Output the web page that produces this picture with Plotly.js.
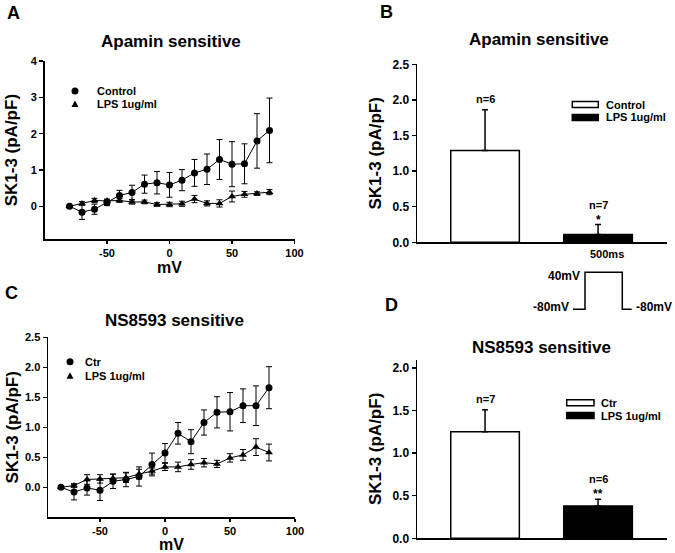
<!DOCTYPE html>
<html>
<head>
<meta charset="utf-8">
<script src="https://cdn.plot.ly/plotly-3.0.1.min.js"></script>
<style>html,body{margin:0;padding:0;background:#fff;}#chart{width:675px;height:553px;}</style>
</head>
<body>
<div id="chart"></div>
<script>
// ---------- data ----------
const mV = [-80, -70, -60, -50, -40, -30, -20, -10, 0, 10, 20, 30, 40, 50, 60, 70, 80];
const mVTicks = [-50, 0, 50, 100];
const mVTickText = ['-50', '0', '50', '100'];

// Panel A: Apamin sensitive I-V
const apaCtrl    = [0, -0.16, -0.08, 0.10, 0.30, 0.38, 0.61, 0.65, 0.59, 0.72, 0.92, 1.02, 1.29, 1.16, 1.17, 1.80, 2.09];
const apaCtrlErr = [0, 0.20, 0.14, 0.08, 0.14, 0.20, 0.25, 0.31, 0.34, 0.29, 0.37, 0.42, 0.55, 0.62, 0.55, 0.75, 0.89];
const apaLps     = [0, 0.08, 0.16, 0.15, 0.16, 0.12, 0.12, 0.05, 0.05, 0.07, 0.20, 0.08, 0.08, 0.27, 0.33, 0.35, 0.39];
const apaLpsErr  = [0, 0.05, 0.06, 0.05, 0.05, 0.06, 0.05, 0.05, 0.06, 0.07, 0.10, 0.07, 0.10, 0.15, 0.08, 0.05, 0.07];

// Panel C: NS8593 sensitive I-V
const nsCtr     = [0, -0.08, -0.01, -0.05, 0.10, 0.13, 0.18, 0.38, 0.57, 0.90, 0.76, 1.08, 1.25, 1.26, 1.36, 1.36, 1.66];
const nsCtrErr  = [0, 0.13, 0.12, 0.17, 0.12, 0.12, 0.16, 0.19, 0.16, 0.18, 0.20, 0.21, 0.26, 0.32, 0.28, 0.33, 0.35];
const nsLps     = [0, 0.03, 0.13, 0.14, 0.15, 0.16, 0.22, 0.27, 0.34, 0.34, 0.38, 0.41, 0.39, 0.49, 0.54, 0.67, 0.58];
const nsLpsErr  = [0, 0.03, 0.08, 0.07, 0.07, 0.08, 0.08, 0.05, 0.06, 0.08, 0.08, 0.07, 0.06, 0.07, 0.09, 0.14, 0.14];

// Panel B: Apamin sensitive bars
const apaGroups = ['Control', 'LPS 1ug/ml'];
const apaBar    = [1.29, 0.11];
const apaBarErr = [0.57, 0.14];
const apaN      = ['n=6', 'n=7'];
const apaSig    = ['', '*'];

// Panel D: NS8593 sensitive bars
const nsGroups = ['Ctr', 'LPS 1ug/ml'];
const nsBar    = [1.25, 0.38];
const nsBarErr = [0.26, 0.08];
const nsN      = ['n=7', 'n=6'];
const nsSig    = ['', '**'];

const barFill = ['white', 'black'];

// ---------- helpers ----------
const W = 675, H = 553;
const PX = p => p / W;
const PY = p => 1 - p / H;
const FAM = 'Liberation Sans, Arial, sans-serif';
const bold = (size) => ({family: FAM, size: size, color: 'black', weight: 'bold'});

function ivTrace(y, err, sym, xa, ya) {
  return {
    x: mV, y: y, type: 'scatter', mode: 'lines+markers',
    xaxis: xa, yaxis: ya, showlegend: false,
    line: {color: 'black', width: 1},
    marker: {symbol: sym, size: 7, color: 'black'},
    error_y: {type: 'data', array: err, visible: true, color: 'black', thickness: 1, width: 3}
  };
}
function barTrace(cats, vals, errs, xa, ya) {
  return {
    x: cats, y: vals, type: 'bar', xaxis: xa, yaxis: ya, showlegend: false,
    width: 0.607,
    marker: {color: barFill, line: {color: 'black', width: 1.5}},
    error_y: {type: 'data', symmetric: false, array: errs, arrayminus: errs.map(() => 0),
              visible: true, color: 'black', thickness: 1.5, width: 3}
  };
}

const traces = [
  ivTrace(apaCtrl, apaCtrlErr, 'circle', 'x', 'y'),
  ivTrace(apaLps, apaLpsErr, 'triangle-up', 'x', 'y'),
  barTrace(apaGroups, apaBar, apaBarErr, 'x2', 'y2'),
  ivTrace(nsCtr, nsCtrErr, 'circle', 'x3', 'y3'),
  ivTrace(nsLps, nsLpsErr, 'triangle-up', 'x3', 'y3'),
  barTrace(nsGroups, nsBar, nsBarErr, 'x4', 'y4')
];

const axBase = {
  showline: true, linecolor: 'black', linewidth: 1.5, mirror: false,
  ticks: 'outside', ticklen: 4, tickwidth: 1.5, tickcolor: 'black',
  showgrid: false, zeroline: false, fixedrange: true,
  tickfont: bold(11)
};
function ax(extra) { return Object.assign({}, axBase, extra); }

const layout = {
  width: W, height: H,
  margin: {l: 0, r: 0, t: 0, b: 0},
  paper_bgcolor: 'white', plot_bgcolor: 'white',
  showlegend: false,
  // Panel A
  xaxis: ax({domain: [PX(44.5), PX(294.5)], range: [-100, 100], tickvals: mVTicks, ticktext: mVTickText, anchor: 'y',
             ticklen: 3, title: {text: 'mV', font: bold(16), standoff: 3}}),
  yaxis: ax({domain: [PY(239.3), PY(61)], range: [-0.908, 4], tickvals: [0, 1, 2, 3, 4], anchor: 'x',
             title: {text: 'SK1-3 (pA/pF)', font: bold(17), standoff: 8}}),
  // Panel B
  xaxis2: ax({domain: [PX(417), PX(667)], range: [-0.602, 1.61], type: 'category', anchor: 'y2',
              ticks: '', showticklabels: false}),
  yaxis2: ax({domain: [PY(242.3), PY(64.3)], range: [0, 2.5], tickvals: [0, 0.5, 1, 1.5, 2, 2.5], tickformat: '.1f',
              anchor: 'x2', tickfont: bold(12),
              title: {text: 'SK1-3 (pA/pF)', font: bold(17), standoff: 6}}),
  // Panel C
  xaxis3: ax({domain: [PX(48), PX(295)], range: [-90, 100], tickvals: mVTicks, ticktext: mVTickText, anchor: 'y3',
              ticklen: 3, title: {text: 'mV', font: bold(16), standoff: 3}}),
  yaxis3: ax({domain: [PY(517.3), PY(337.3)], range: [-0.5, 2.5], tickvals: [0, 0.5, 1, 1.5, 2, 2.5], tickformat: '.1f',
              anchor: 'x3', title: {text: 'SK1-3 (pA/pF)', font: bold(17), standoff: 2}}),
  // Panel D
  xaxis4: ax({domain: [PX(417), PX(667)], range: [-0.602, 1.61], type: 'category', anchor: 'y4',
              ticks: '', showticklabels: false}),
  yaxis4: ax({domain: [PY(538.3), PY(359.5)], range: [0, 2.1], tickvals: [0, 0.5, 1, 1.5, 2], tickformat: '.1f',
              anchor: 'x4', tickfont: bold(12),
              title: {text: 'SK1-3 (pA/pF)', font: bold(17), standoff: 6}}),
  annotations: [],
  shapes: []
};

const A = layout.annotations, S = layout.shapes;
function txt(text, px, py, size, xanchor, yanchor) {
  A.push({text: text, x: PX(px), y: PY(py), xref: 'paper', yref: 'paper', showarrow: false,
          xanchor: xanchor || 'center', yanchor: yanchor || 'middle', font: bold(size)});
}

// panel letters and titles
txt('A', 13, 13, 18); txt('B', 386, 12.5, 18); txt('C', 11.5, 292.5, 18); txt('D', 391.5, 305, 18);
txt('Apamin sensitive', 170.5, 41, 17);
txt('Apamin sensitive', 539, 40, 17);
txt('NS8593 sensitive', 174, 320, 17);
txt('NS8593 sensitive', 541, 347, 17);

// n labels and significance stars (positioned from data)
function barLabels(cats, vals, errs, ns, sigs, xa, ya) {
  cats.forEach((c, i) => {
    const top = vals[i] + errs[i];
    if (sigs[i]) {
      A.push({text: sigs[i], x: c, y: top, xref: xa, yref: ya, showarrow: false, xanchor: 'center',
              yanchor: 'bottom', yshift: -4, font: bold(12)});
      A.push({text: ns[i], x: c, y: top, xref: xa, yref: ya, showarrow: false, xanchor: 'center',
              yanchor: 'bottom', yshift: 12, font: bold(11)});
    } else {
      A.push({text: ns[i], x: c, y: top, xref: xa, yref: ya, showarrow: false, xanchor: 'center',
              yanchor: 'bottom', yshift: 3, font: bold(11)});
    }
  });
}
barLabels(apaGroups, apaBar, apaBarErr, apaN, apaSig, 'x2', 'y2');
barLabels(nsGroups, nsBar, nsBarErr, nsN, nsSig, 'x4', 'y4');

// legends for I-V panels
function circ(cx, cy, r) {
  S.push({type: 'circle', xref: 'paper', yref: 'paper', x0: PX(cx - r), x1: PX(cx + r), y0: PY(cy + r), y1: PY(cy - r),
          fillcolor: 'black', line: {color: 'black', width: 0}});
}
function tri(cx, cy) {
  S.push({type: 'path', xref: 'paper', yref: 'paper',
          path: `M${PX(cx - 3.5)},${PY(cy + 3)} L${PX(cx + 3.5)},${PY(cy + 3)} L${PX(cx)},${PY(cy - 3.5)} Z`,
          fillcolor: 'black', line: {color: 'black', width: 0}});
}
circ(75, 91, 3.5); tri(75, 104);
txt('Control', 95, 91, 11, 'left'); txt('LPS 1ug/ml', 95, 104, 11, 'left');
circ(70, 361.7, 3.5); tri(70, 375.7);
txt('Ctr', 83, 361.7, 11, 'left'); txt('LPS 1ug/ml', 83, 375.7, 11, 'left');

// legends for bar panels
function rect(x0, x1, cy, fill) {
  S.push({type: 'rect', xref: 'paper', yref: 'paper', x0: PX(x0), x1: PX(x1), y0: PY(cy + 3), y1: PY(cy - 3),
          fillcolor: fill, line: {color: 'black', width: 1.5}});
}
rect(572.3, 598.3, 104.5, 'white'); rect(572.3, 598.3, 117.5, 'black');
txt('Control', 604, 104.5, 11, 'left'); txt('LPS 1ug/ml', 604, 117.5, 11, 'left');
rect(566.7, 594, 402.7, 'white'); rect(566.7, 594, 415.5, 'black');
txt('Ctr', 598.5, 402.7, 11, 'left'); txt('LPS 1ug/ml', 598.5, 415.5, 11, 'left');

// voltage protocol inset
S.push({type: 'path', xref: 'paper', yref: 'paper',
        path: `M${PX(573)},${PY(309.3)} L${PX(585)},${PY(309.3)} L${PX(585)},${PY(272.3)} L${PX(622.3)},${PY(272.3)} L${PX(622.3)},${PY(309.3)} L${PX(631.7)},${PY(309.3)}`,
        line: {color: 'black', width: 1.5}});
txt('500ms', 606.7, 254, 11);
txt('40mV', 582, 276, 12, 'right');
txt('-80mV', 571, 306.7, 12, 'right');
txt('-80mV', 633.5, 306.7, 12, 'left');

Plotly.newPlot('chart', traces, layout, {staticPlot: true, displayModeBar: false});
</script>
</body>
</html>
